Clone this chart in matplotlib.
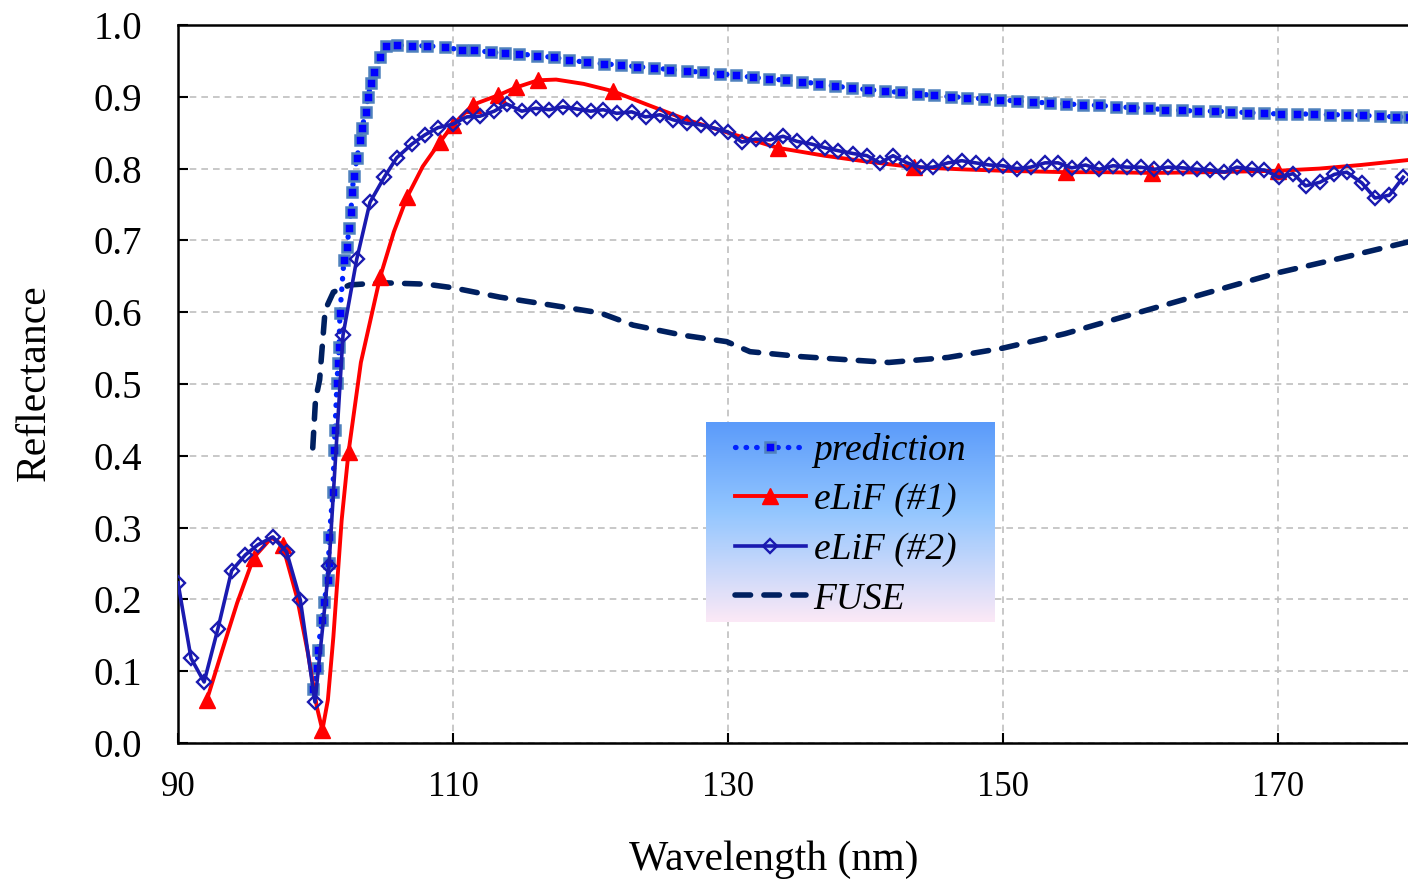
import numpy as np
import matplotlib
matplotlib.use("Agg")
import matplotlib.pyplot as plt
from matplotlib.colors import LinearSegmentedColormap

# --- data ---
pred_x = [99.85, 100.11, 100.18, 100.47, 100.62, 100.91, 100.95, 101.0, 101.27, 101.35,
          101.42, 101.56, 101.64, 101.71, 101.78, 102.07, 102.29, 102.44, 102.58, 102.65,
          102.8, 103.02, 103.24, 103.38, 103.67, 103.82, 104.04, 104.25, 104.69, 105.13,
          105.93, 107.02, 108.11, 109.42, 110.65, 111.53, 112.76, 113.78, 114.8, 116.11,
          117.35, 118.44, 119.75, 121.0, 122.2, 123.4, 124.6, 125.8, 127.0, 128.2,
          129.4, 130.6, 131.8, 133.0, 134.2, 135.4, 136.6, 137.8, 139.0, 140.2,
          141.4, 142.6, 143.8, 145.0, 146.2, 147.4, 148.6, 149.8, 151.0, 152.2,
          153.4, 154.6, 155.8, 157.0, 158.2, 159.4, 160.6, 161.8, 163.0, 164.2,
          165.4, 166.6, 167.8, 169.0, 170.2, 171.4, 172.6, 173.8, 175.0, 176.2,
          177.4, 178.6, 179.5]
pred_y = [0.075, 0.104, 0.130, 0.171, 0.196, 0.227, 0.251, 0.287, 0.350, 0.408,
          0.436, 0.501, 0.529, 0.552, 0.599, 0.673, 0.691, 0.717, 0.740, 0.767,
          0.790, 0.815, 0.840, 0.857, 0.879, 0.900, 0.919, 0.935, 0.955, 0.971,
          0.972, 0.971, 0.971, 0.969, 0.965, 0.965, 0.962, 0.961, 0.960, 0.957,
          0.955, 0.951, 0.948, 0.946, 0.944, 0.942, 0.940, 0.938, 0.936, 0.934,
          0.932, 0.930, 0.927, 0.925, 0.923, 0.921, 0.918, 0.915, 0.912, 0.910,
          0.908, 0.906, 0.904, 0.902, 0.900, 0.899, 0.897, 0.896, 0.894, 0.893,
          0.891, 0.890, 0.889, 0.888, 0.886, 0.885, 0.884, 0.882, 0.881, 0.880,
          0.880, 0.879, 0.878, 0.877, 0.876, 0.876, 0.876, 0.875, 0.875, 0.874,
          0.873, 0.872, 0.872]

elif1_x = [92.1, 93.2, 94.3, 95.5, 96.8, 97.6, 98.65, 99.45, 100.1, 100.5,
           100.9, 101.3, 101.9, 102.4, 103.3, 104.7, 105.7, 106.65, 107.8, 109.05,
           110.0, 111.45, 113.27, 114.58, 116.18, 117.5, 119.5, 121.6, 124.0, 127.0,
           130.0, 133.6, 137.0, 140.0, 143.5, 147.0, 150.0, 154.6, 157.5, 160.8,
           165.0, 170.0, 173.0, 176.0, 179.5]
elif1_y = [0.060, 0.128, 0.195, 0.258, 0.286, 0.276, 0.203, 0.125, 0.050, 0.018,
           0.060, 0.148, 0.310, 0.405, 0.530, 0.649, 0.712, 0.760, 0.803, 0.837,
           0.861, 0.889, 0.902, 0.913, 0.923, 0.924, 0.918, 0.908, 0.890, 0.868,
           0.850, 0.829, 0.818, 0.810, 0.802, 0.799, 0.797, 0.795, 0.795, 0.794,
           0.795, 0.797, 0.800, 0.805, 0.812]
elif1_marks = [0, 3, 5, 9, 13, 15, 17, 19, 20, 21, 22, 23, 24, 27, 31, 34, 37, 39, 41]

elif2_x = [90.0, 90.95, 91.9, 92.9, 93.9, 94.9, 95.8, 96.9, 97.9, 98.9,
           99.96, 100.98, 102.0, 103.0, 103.96, 105.0, 105.9, 107.0, 107.96, 108.9,
           110.0, 111.0, 111.96, 113.0, 113.9, 115.0, 116.0, 117.0, 118.0, 119.0,
           120.0, 120.93, 121.9, 123.0, 124.0, 125.05, 126.0, 127.0, 128.0, 129.05,
           130.0, 131.0, 132.0, 133.05, 134.0, 135.0, 136.1, 137.05, 138.0, 139.1,
           140.1, 141.05, 142.0, 143.0, 144.0, 144.9, 146.0, 147.0, 148.0, 149.0,
           150.0, 151.0, 152.0, 153.05, 154.0, 155.0, 156.0, 157.0, 158.0, 159.0,
           160.0, 161.0, 162.0, 163.1, 164.1, 165.05, 166.1, 167.0, 168.1, 169.0,
           170.05, 171.1, 172.0, 173.05, 174.1, 175.0, 176.1, 177.05, 178.1, 179.1]
elif2_y = [0.223, 0.118, 0.085, 0.159, 0.240, 0.262, 0.276, 0.287, 0.266, 0.199,
           0.057, 0.247, 0.568, 0.674, 0.753, 0.788, 0.815, 0.834, 0.847, 0.857,
           0.862, 0.872, 0.873, 0.880, 0.890, 0.880, 0.884, 0.882, 0.886, 0.883,
           0.880, 0.882, 0.877, 0.879, 0.872, 0.875, 0.868, 0.863, 0.861, 0.856,
           0.851, 0.837, 0.841, 0.840, 0.845, 0.838, 0.834, 0.829, 0.825, 0.821,
           0.818, 0.808, 0.818, 0.808, 0.802, 0.802, 0.808, 0.811, 0.808, 0.805,
           0.804, 0.800, 0.802, 0.808, 0.808, 0.801, 0.805, 0.799, 0.804, 0.802,
           0.802, 0.799, 0.802, 0.801, 0.799, 0.798, 0.795, 0.802, 0.799, 0.798,
           0.788, 0.793, 0.776, 0.781, 0.792, 0.795, 0.780, 0.759, 0.763, 0.788]

fuse_x = [99.8, 100.0, 100.3, 100.7, 101.3, 102.5, 104.9, 108.1, 110.0, 113.4,
          117.1, 120.7, 123.1, 126.7, 129.9, 131.6, 135.4, 138.5, 141.7, 146.0,
          150.0, 154.5, 159.2, 164.5, 170.0, 174.5, 179.5]
fuse_y = [0.411, 0.478, 0.506, 0.603, 0.628, 0.638, 0.641, 0.639, 0.634, 0.621,
          0.610, 0.599, 0.582, 0.568, 0.559, 0.545, 0.538, 0.534, 0.530, 0.537,
          0.550, 0.570, 0.596, 0.625, 0.655, 0.675, 0.698]

x_ticks = [90, 110, 130, 150, 170]
y_ticks = [0.0, 0.1, 0.2, 0.3, 0.4, 0.5, 0.6, 0.7, 0.8, 0.9, 1.0]

plt.rcParams['font.family'] = ['Liberation Serif', 'DejaVu Serif']

fig = plt.figure(figsize=(14.08, 8.88), dpi=100)
ax = fig.add_axes([178 / 1408, 145 / 888, 1 - 178 / 1408, 718 / 888])

l_pred, = ax.plot(pred_x, pred_y, color="#0022FF", lw=3.8, linestyle=(0, (0.1, 1.9)),
                  dash_capstyle="round", marker="s", markersize=6.5,
                  markerfacecolor="#0000FF", markeredgecolor="#4F81BD", markeredgewidth=1.8,
                  zorder=2, label="prediction")
l_fuse, = ax.plot(fuse_x, fuse_y, color="#002060", lw=4.0, linestyle=(0, (2.8, 2.4)),
                  dash_capstyle="round", zorder=2.5, label="FUSE")
l_e1, = ax.plot(elif1_x, elif1_y, color="#FF0000", lw=2.8, marker="^", markersize=11,
                markevery=elif1_marks, zorder=3, label="eLiF (#1)")
l_e2, = ax.plot(elif2_x, elif2_y, color="#1A1AB0", lw=2.6, marker="D", markersize=7.5,
                markerfacecolor="none", markeredgecolor="#1A1AB0", markeredgewidth=1.7,
                zorder=4, label="eLiF (#2)")

ax.set_xlim(90, 179.45)
ax.set_ylim(0, 1.0)
ax.set_xticks(x_ticks)
ax.set_yticks(y_ticks)
ax.set_yticklabels([f"{v:.1f}" for v in y_ticks])
ax.grid(True, color="#BFBFBF", linestyle=(0, (4, 3)), lw=1.2)
ax.tick_params(axis="y", direction="in", length=7, width=1.5, labelsize=28, pad=26)
ax.tick_params(axis="x", direction="in", length=7, width=1.5, labelsize=25, pad=20)
for s in ["left", "bottom", "top"]:
    ax.spines[s].set_linewidth(1.8)
ax.spines["right"].set_visible(False)

fig.text(774 / 1408, 1 - 860 / 888, "Wavelength (nm)", fontsize=30, ha="center", va="center")
fig.text(35 / 1408, 1 - 383 / 888, "Reflectance", fontsize=30, ha="center", va="center",
         rotation=90)

# legend box with vertical gradient
lx0, ly0, lw_, lh = 0.4293, 0.1685, 0.2349, 0.2772
cmap = LinearSegmentedColormap.from_list(
    "leg", [(0.0, "#FCE9F6"), (0.55, "#93C6FF"), (1.0, "#5B9BFA")])
grad = np.linspace(0, 1, 256).reshape(-1, 1)
ax.imshow(grad, cmap=cmap, origin="lower", aspect="auto", transform=ax.transAxes,
          extent=[lx0, lx0 + lw_, ly0, ly0 + lh], zorder=6)
ax.set_xlim(90, 179.45)
ax.set_ylim(0, 1.0)

leg = ax.legend(handles=[l_pred, l_e1, l_e2, l_fuse], loc="center",
                bbox_to_anchor=(lx0, ly0 - 0.003, lw_, lh), frameon=False, numpoints=1,
                handlelength=1.9, handletextpad=0.2, labelspacing=0.4,
                prop={"family": "Liberation Serif", "style": "italic", "size": 27})
leg.set_zorder(7)

fig.savefig("out.png", dpi=100)
